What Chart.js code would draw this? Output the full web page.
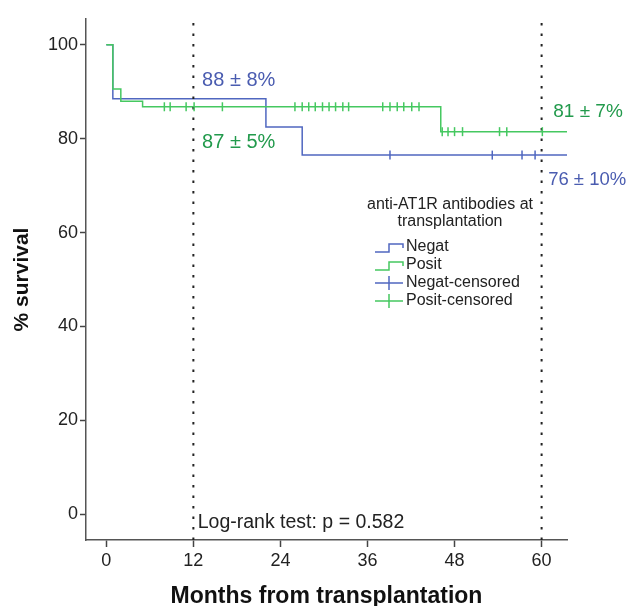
<!DOCTYPE html>
<html>
<head>
<meta charset="utf-8">
<script src="https://cdn.jsdelivr.net/npm/chart.js@4"></script>
<style>
  body { margin: 0; background: #fff; }
  #wrap { width: 633px; height: 606px; }
</style>
</head>
<body>
<div id="wrap"><canvas id="km"></canvas></div>
<script>
// Kaplan-Meier steps (months, % survival)
const negTimes = [0, 0.9, 22, 27, 63.5];
const negSurv = [100, 88.5, 82.5, 76.5, 76.5];
const posTimes = [0, 0.9, 2, 5, 46.1, 63.5];
const posSurv = [100, 90.6, 88.0, 86.8, 81.5, 81.5];

// censored observations
const negCensTimes = [39.1, 53.2, 57.3, 59.1];
const negCensSurv = [76.5, 76.5, 76.5, 76.5];
const posCensTimes = [8.0, 8.8, 11.0, 12.1, 16.0, 26.0, 27.0, 27.9, 28.8, 29.8, 30.7, 31.6, 32.6, 33.4,
  38.1, 39.1, 40.1, 41.0, 42.1, 43.1, 46.3, 47.1, 48.0, 49.1, 54.2, 55.2, 60.1];
const posCensSurv = [86.8, 86.8, 86.8, 86.8, 86.8, 86.8, 86.8, 86.8, 86.8, 86.8, 86.8, 86.8, 86.8, 86.8,
  86.8, 86.8, 86.8, 86.8, 86.8, 86.8, 81.5, 81.5, 81.5, 81.5, 81.5, 81.5, 81.5];

const refLines = [12, 60];
const xTicks = [0, 12, 24, 36, 48, 60];
const yTicks = [0, 20, 40, 60, 80, 100];

const notes = [
  { text: "88 \u00b1 8%", x: 13.2, y: 92.5, color: "#4a5cb0", size: 20 },
  { text: "87 \u00b1 5%", x: 13.2, y: 79.2, color: "#229a4c", size: 20 },
  { text: "81 \u00b1 7%", x: 61.6, y: 85.8, color: "#229a4c", size: 19 },
  { text: "76 \u00b1 10%", x: 60.9, y: 71.3, color: "#4a5cb0", size: 18.5 },
  { text: "Log-rank test: p = 0.582", x: 12.6, y: -1.7, color: "#222", size: 19.5 }
];

const BLUE = "#5067c0";
const GREEN = "#45c860";
const FONT = "'Liberation Sans', Arial, sans-serif";

const zip = (xs, ys) => xs.map((x, i) => ({ x: x, y: ys[i] }));

const datasets = [
  { label: "Negat", data: zip(negTimes, negSurv), borderColor: BLUE, borderWidth: 1.5, stepped: true,
    pointRadius: 0, showLine: true, order: 2 },
  { label: "Posit", data: zip(posTimes, posSurv), borderColor: GREEN, borderWidth: 1.5, stepped: true,
    pointRadius: 0, showLine: true, order: 1 },
  { label: "Negat-censored", data: zip(negCensTimes, negCensSurv), borderColor: BLUE, showLine: false,
    pointStyle: "line", rotation: 90, pointRadius: 4.5, pointBorderWidth: 1.5, order: 1 },
  { label: "Posit-censored", data: zip(posCensTimes, posCensSurv), borderColor: GREEN, showLine: false,
    pointStyle: "line", rotation: 90, pointRadius: 4.5, pointBorderWidth: 1.5, order: 0 }
];
refLines.forEach(m => {
  datasets.push({ label: "ref", data: [{ x: m, y: -5.5 }, { x: m, y: 105.5 }], borderColor: "#222",
    borderWidth: 2, borderDash: [2.5, 8], pointRadius: 0, showLine: true, order: 0 });
});

const legendItems = [
  { text: "Negat", color: BLUE, kind: "step" },
  { text: "Posit", color: GREEN, kind: "step" },
  { text: "Negat-censored", color: BLUE, kind: "cross" },
  { text: "Posit-censored", color: GREEN, kind: "cross" }
];

const extras = {
  id: "extras",
  afterDatasetsDraw(chart) {
    const ctx = chart.ctx;
    const xs = chart.scales.x, ys = chart.scales.y;
    ctx.save();
    ctx.textBaseline = "middle";
    ctx.textAlign = "left";
    notes.forEach(n => {
      ctx.fillStyle = n.color;
      ctx.font = n.size + "px " + FONT;
      ctx.fillText(n.text, xs.getPixelForValue(n.x), ys.getPixelForValue(n.y));
    });

    // legend
    ctx.fillStyle = "#222";
    ctx.font = "16px " + FONT;
    ctx.textAlign = "center";
    ctx.fillText("anti-AT1R antibodies at", 450, 205);
    ctx.fillText("transplantation", 450, 222);
    ctx.textAlign = "left";
    legendItems.forEach((it, i) => {
      const y = 247 + i * 18;
      ctx.strokeStyle = it.color;
      ctx.lineWidth = 1.5;
      ctx.beginPath();
      if (it.kind === "step") {
        ctx.moveTo(375, y + 5); ctx.lineTo(389, y + 5); ctx.lineTo(389, y - 3); ctx.lineTo(403, y - 3); ctx.lineTo(403, y + 1);
      } else {
        ctx.moveTo(375, y); ctx.lineTo(403, y); ctx.moveTo(389, y - 7); ctx.lineTo(389, y + 7);
      }
      ctx.stroke();
      ctx.fillStyle = "#222";
      ctx.fillText(it.text, 406, y);
    });
    ctx.restore();
  }
};

new Chart(document.getElementById("km"), {
  type: "scatter",
  data: { datasets: datasets },
  plugins: [extras],
  options: {
    responsive: true,
    maintainAspectRatio: false,
    animation: false,
    layout: { padding: { left: 0, top: 19, right: 66, bottom: 0 } },
    plugins: { legend: { display: false }, tooltip: { enabled: false } },
    scales: {
      x: {
        type: "linear", min: -2.8, max: 63.5,
        afterBuildTicks: s => { s.ticks = xTicks.map(v => ({ value: v })); },
        afterFit: s => { s.height = 66; },
        grid: { drawOnChartArea: false, tickLength: 7, color: "#444", tickWidth: 1.5 },
        border: { color: "#555", width: 1.5 },
        ticks: { color: "#222", font: { family: FONT, size: 18 }, padding: 3, maxRotation: 0 },
        title: { display: true, text: "Months from transplantation", color: "#111",
          font: { family: FONT, size: 23, weight: "bold" }, padding: { top: 6, bottom: -4 } }
      },
      y: {
        type: "linear", min: -5.5, max: 105.5,
        afterBuildTicks: s => { s.ticks = yTicks.map(v => ({ value: v })); },
        afterFit: s => { s.width = 86; },
        grid: { drawOnChartArea: false, tickLength: 6, color: "#444", tickWidth: 1.5 },
        border: { color: "#555", width: 1.5 },
        ticks: { color: "#222", font: { family: FONT, size: 18 }, padding: 2 },
        title: { display: true, text: "% survival", color: "#111",
          font: { family: FONT, size: 21, weight: "bold" }, padding: { top: 10, bottom: 10 } }
      }
    }
  }
});
</script>
</body>
</html>
